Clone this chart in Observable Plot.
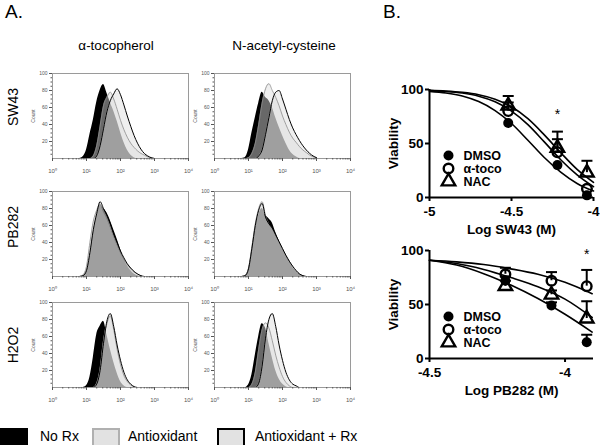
<!DOCTYPE html>
<html><head><meta charset="utf-8">
<script src="https://cdn.jsdelivr.net/npm/d3@7"></script>
<script src="https://cdn.jsdelivr.net/npm/@observablehq/plot@0.6"></script>
<style>
body{margin:0;background:#fff;}
#fig{position:relative;width:600px;height:445px;overflow:hidden;font-family:"Liberation Sans",Arial,sans-serif;background:#fff;color:#000;}
.abs{position:absolute;white-space:nowrap;}
.rot{position:absolute;white-space:nowrap;transform:translate(-50%,-50%) rotate(-90deg);font-size:14px;}
</style></head><body><div id="fig"></div>
<script>
// ---------- Panel A data (flow histograms, x = log10 fluorescence) ----------
const logGrid = [0.8,0.9,1.0,1.1,1.2,1.3,1.4,1.5,1.6,1.7,1.8,1.9,2.0,2.1,2.2,2.3,2.4,2.5,2.6,2.7,2.8,2.9,3.0];
const decadeTicks = [0,1,2,3,4];
const decadeLabels = ["10\u2070","10\u00b9","10\u00b2","10\u00b3","10\u2074"];
const countTicks = [20,40,60,80,100];
const columnTitles = ["\u03b1-tocopherol","N-acetyl-cysteine"];
const rowTitles = ["SW43","PB282","H2O2"];
const legendLabels = ["No Rx","Antioxidant","Antioxidant + Rx"];

const sw43Toco_noRx   = [0,2,10,28,45,66,80,87,77,66,56,44,31,19,10,4,1,0,0,0,0,0,0];
const sw43Toco_anti   = [0,0,0,0,3,15,38,62,72,78,70,58,45,34,25,18,13,9,6,4,2,1,0];
const sw43Toco_antiRx = [0,0,0,0,0,3,15,35,55,68,76,82,75,63,50,38,27,18,11,6,3,1,0];

const sw43Nac_noRx   = [0,1,10,30,48,65,78,72,68,60,48,37,27,18,10,5,2,0,0,0,0,0,0];
const sw43Nac_anti   = [0,0,1,6,18,40,65,82,88,80,72,62,50,40,31,24,19,14,10,7,4,2,1];
const sw43Nac_antiRx = [0,0,0,0,0,3,10,28,48,68,78,80,70,58,46,36,28,21,15,10,6,3,1];

const pb282Toco_noRx   = [0,1,6,25,52,72,84,80,75,66,55,44,32,21,13,7,3,1,0,0,0,0,0];
const pb282Toco_anti   = [0,2,12,40,65,78,85,76,68,58,47,37,28,20,14,9,5,3,1,0,0,0,0];
const pb282Toco_antiRx = [0,1,7,28,55,74,88,80,72,62,50,40,30,22,15,10,6,3,1,0,0,0,0];

const pb282Nac_noRx   = [0,1,8,30,55,72,80,72,68,63,52,42,33,25,18,11,6,3,1,0,0,0,0];
const pb282Nac_anti   = [0,1,10,35,62,80,88,72,62,56,48,40,32,25,18,12,7,3,1,0,0,0,0];
const pb282Nac_antiRx = [0,1,9,33,60,78,86,70,62,57,49,41,33,25,18,12,7,3,1,0,0,0,0];

const h2o2Toco_noRx   = [0,0,2,12,35,62,72,78,62,45,30,17,7,2,0,0,0,0,0,0,0,0,0];
const h2o2Toco_anti   = [0,0,0,0,0,5,22,55,75,84,68,45,27,14,7,3,1,0,0,0,0,0,0];
const h2o2Toco_antiRx = [0,0,0,0,0,4,20,52,78,87,72,50,32,18,9,4,1,0,0,0,0,0,0];

const h2o2Nac_noRx   = [0,0,3,15,38,60,75,70,52,35,20,10,4,1,0,0,0,0,0,0,0,0,0];
const h2o2Nac_anti   = [0,0,0,4,18,45,68,76,70,55,38,24,13,6,2,0,0,0,0,0,0,0,0];
const h2o2Nac_antiRx = [0,0,0,0,0,5,25,58,80,87,72,50,32,18,9,4,2,0,0,0,0,0,0];

// ---------- Panel B data (viability) ----------
const sw43Dose = [-4.52,-4.22,-4.04];
const sw43DMSO = [69,30,2],  sw43DMSOerr = [0,0,0];
const sw43Toco = [80,42,8],  sw43TocoErr = [8,12,0];
const sw43NAC  = [85,46,23], sw43NACerr  = [9,15,11];
const sw43Star = [{x:-4.22, y:77}];
const sw43FitX = [-5,-4.9,-4.8,-4.7,-4.6,-4.5,-4.4,-4.3,-4.2,-4.1,-4.0];
const sw43FitDMSO = [98.3,96.8,94,88.8,80.5,68.5,53,37,23.5,13,6];
const sw43FitToco = [99,98.2,96.7,93.8,88.6,80,67.5,51.5,35,21,10];
const sw43FitNAC  = [99.2,98.6,97.4,95.2,91,84,73,58,41.5,26,14];

const pb282Dose = [-4.22,-4.05,-3.92];
const pb282DMSO = [72,49,15], pb282DMSOerr = [4,3,7];
const pb282Toco = [78,72,67], pb282TocoErr = [6,8,15];
const pb282NAC  = [67,59,37], pb282NACerr  = [5,4,16];
const pb282Star = [{x:-3.92, y:96}];
const pb282FitX = [-4.5,-4.4,-4.3,-4.2,-4.1,-4.0,-3.9];
const pb282FitDMSO = [91,86.5,78.5,68,55.5,41,24.5];
const pb282FitToco = [91,89.5,87,83,78,70.5,60];
const pb282FitNAC  = [91,88,82.5,75,66.5,55,38];
const doseLegend = ["DMSO","\u03b1-toco","NAC"];

// ---------- helpers ----------
const fig = document.getElementById("fig");
const FONT = '"Liberation Sans", Arial, sans-serif';
function place(node, left, top){ node.style.position="absolute"; node.style.left=left+"px"; node.style.top=top+"px"; fig.appendChild(node); return node; }
function addText(txt, left, top, css){ const d=document.createElement("div"); d.className="abs"; d.textContent=txt; Object.assign(d.style, css||{}); return place(d,left,top); }

const minorX = decadeTicks.slice(0,-1).flatMap(n => d3.range(2,10).map(k => n + Math.log10(k)));
const minorY = d3.range(5,100,5).filter(v => v % 20 !== 0);

function hist(noRx, anti, antiRx, left, top){
  const rows = arr => logGrid.map((x,i)=>({x, y:arr[i]}));
  const curve = "monotone-x";
  const p = Plot.plot({
    width:172, height:113, marginLeft:30, marginRight:6, marginTop:6, marginBottom:22,
    x:{domain:[0,4]}, y:{domain:[0,100]},
    style:{fontFamily:FONT, fontSize:"5px", color:"#555", background:"transparent", overflow:"visible"},
    marks:[
      Plot.areaY(rows(noRx), {x:"x", y:"y", fill:"#000", curve}),
      Plot.areaY(rows(anti), {x:"x", y:"y", fill:"#dcdcdc", fillOpacity:0.47, curve}),
      Plot.areaY(rows(antiRx), {x:"x", y:"y", fill:"#dcdcdc", fillOpacity:0.47, curve}),
      Plot.lineY(rows(anti), {x:"x", y:"y", stroke:"#8a8a8a", strokeWidth:0.8, curve}),
      Plot.lineY(rows(antiRx), {x:"x", y:"y", stroke:"#000", strokeWidth:1, curve}),
      Plot.frame({stroke:"#9a9a9a"}),
      Plot.axisX({ticks:decadeTicks, tickFormat:d=>decadeLabels[decadeTicks.indexOf(d)], tickSize:3, tickPadding:7, fontSize:6, label:null}),
      Plot.axisX({ticks:minorX, tickSize:1.5, tickFormat:()=>"", label:null}),
      Plot.axisY({ticks:countTicks, tickSize:3, tickPadding:2, fontSize:5, label:"Count", labelAnchor:"center", labelArrow:"none", labelOffset:21}),
      Plot.axisY({ticks:minorY, tickSize:1.5, tickFormat:()=>"", label:null})
    ]
  });
  place(p, left-30, top-6);
}

const capSymbol = { draw(ctx, size){ const w = Math.sqrt(size/Math.PI); ctx.moveTo(-w,0); ctx.lineTo(w,0); } };

function doseResp(opts){
  const {left, top, domainX, ticksX, xlabel, dose, dmso, dmsoErr, toco, tocoErr, nac, nacErr, star, fitX, fitD, fitT, fitN} = opts;
  const pts = (vals, errs) => dose.map((x,i)=>({x, y:vals[i], e:errs[i]}));
  const fit = arr => fitX.map((x,i)=>({x, y:arr[i]}));
  const errs = [...pts(dmso,dmsoErr), ...pts(toco,tocoErr), ...pts(nac,nacErr)].filter(d=>d.e>0);
  const curve = "monotone-x";
  const LF = 12.5;
  const p = Plot.plot({
    width:220, height:169, marginLeft:49, marginRight:7, marginTop:19, marginBottom:42,
    x:{domain:domainX}, y:{domain:[0,100]},
    style:{fontFamily:FONT, fontSize:"13.5px", fontWeight:"bold", color:"#000", background:"transparent", overflow:"visible"},
    marks:[
      Plot.line(fit(fitD), {x:"x", y:"y", stroke:"#000", strokeWidth:1.6, curve}),
      Plot.line(fit(fitT), {x:"x", y:"y", stroke:"#000", strokeWidth:1.6, curve}),
      Plot.line(fit(fitN), {x:"x", y:"y", stroke:"#000", strokeWidth:1.6, curve}),
      Plot.ruleX(errs, {x:"x", y1:"y", y2:d=>d.y+d.e, stroke:"#000", strokeWidth:2}),
      Plot.dot(errs, {x:"x", y:d=>d.y+d.e, symbol:capSymbol, r:5.5, stroke:"#000", strokeWidth:2, fill:"none"}),
      Plot.dot(pts(dmso,dmsoErr), {x:"x", y:"y", r:5, fill:"#000", stroke:"none"}),
      Plot.dot(pts(toco,tocoErr), {x:"x", y:"y", r:4.8, fill:"none", stroke:"#000", strokeWidth:2.4}),
      Plot.dot(pts(nac,nacErr), {x:"x", y:"y", r:5, symbol:"triangle", fill:"none", stroke:"#000", strokeWidth:2.4}),
      Plot.text(star, {x:"x", y:"y", text:()=>"*", fontSize:14, fontWeight:"normal"}),
      Plot.ruleY([0], {stroke:"#000", strokeWidth:2}),
      Plot.ruleX([domainX[0]], {y1:0, y2:100, stroke:"#000", strokeWidth:2}),
      Plot.axisX({ticks:ticksX, tickFormat:d=>String(d), tickSize:4, tickPadding:5, strokeWidth:2, label:xlabel, labelAnchor:"center", labelArrow:"none", labelOffset:36}),
      Plot.axisY({ticks:[0,50,100], tickFormat:d=>String(d), tickSize:4, tickPadding:2, strokeWidth:2, label:"Viability", labelAnchor:"center", labelArrow:"none", labelOffset:41}),
      // legend
      Plot.dot([doseLegend[0]], {frameAnchor:"bottom-left", dx:19, dy:-42, r:5, fill:"#000"}),
      Plot.dot([doseLegend[1]], {frameAnchor:"bottom-left", dx:19, dy:-29, r:4.8, fill:"none", stroke:"#000", strokeWidth:2.4}),
      Plot.dot([doseLegend[2]], {frameAnchor:"bottom-left", dx:19, dy:-16, r:5, symbol:"triangle", fill:"none", stroke:"#000", strokeWidth:2.4}),
      Plot.text([doseLegend[0]], {frameAnchor:"bottom-left", text:d=>d, dx:34, dy:-42, textAnchor:"start", lineAnchor:"middle", fontSize:LF}),
      Plot.text([doseLegend[1]], {frameAnchor:"bottom-left", text:d=>d, dx:34, dy:-29, textAnchor:"start", lineAnchor:"middle", fontSize:LF}),
      Plot.text([doseLegend[2]], {frameAnchor:"bottom-left", text:d=>d, dx:34, dy:-16, textAnchor:"start", lineAnchor:"middle", fontSize:LF})
    ]
  });
  place(p, left, top);
}

// ---------- headers ----------
addText("A.", 5, 1, {fontSize:"19px"});
addText("B.", 383, 1, {fontSize:"19px"});
addText(columnTitles[0], 116, 38, {fontSize:"13.5px", transform:"translateX(-50%)"});
addText(columnTitles[1], 284, 38, {fontSize:"13.5px", transform:"translateX(-50%)"});
[[rowTitles[0],107],[rowTitles[1],227],[rowTitles[2],345]].forEach(([t,y])=>{
  const d=document.createElement("div"); d.className="rot"; d.textContent=t; place(d,13,y); d.style.transform="translate(-50%,-50%) rotate(-90deg)";
});

// ---------- histograms ----------
const colLeft = [52, 214];
const rowTop = [73, 191, 302];
hist(sw43Toco_noRx, sw43Toco_anti, sw43Toco_antiRx, colLeft[0], rowTop[0]);
hist(sw43Nac_noRx, sw43Nac_anti, sw43Nac_antiRx, colLeft[1], rowTop[0]);
hist(pb282Toco_noRx, pb282Toco_anti, pb282Toco_antiRx, colLeft[0], rowTop[1]);
hist(pb282Nac_noRx, pb282Nac_anti, pb282Nac_antiRx, colLeft[1], rowTop[1]);
hist(h2o2Toco_noRx, h2o2Toco_anti, h2o2Toco_antiRx, colLeft[0], rowTop[2]);
hist(h2o2Nac_noRx, h2o2Nac_anti, h2o2Nac_antiRx, colLeft[1], rowTop[2]);

// ---------- dose response ----------
doseResp({left:380, top:70, domainX:[-5,-4], ticksX:[-5,-4.5,-4], xlabel:"Log SW43 (M)",
  dose:sw43Dose, dmso:sw43DMSO, dmsoErr:sw43DMSOerr, toco:sw43Toco, tocoErr:sw43TocoErr, nac:sw43NAC, nacErr:sw43NACerr,
  star:sw43Star, fitX:sw43FitX, fitD:sw43FitDMSO, fitT:sw43FitToco, fitN:sw43FitNAC});
doseResp({left:380, top:231, domainX:[-4.5,-3.895], ticksX:[-4.5,-4], xlabel:"Log PB282 (M)",
  dose:pb282Dose, dmso:pb282DMSO, dmsoErr:pb282DMSOerr, toco:pb282Toco, tocoErr:pb282TocoErr, nac:pb282NAC, nacErr:pb282NACerr,
  star:pb282Star, fitX:pb282FitX, fitD:pb282FitDMSO, fitT:pb282FitToco, fitN:pb282FitNAC});

// ---------- bottom legend ----------
const sw = [
  {left:0, bg:"#000", border:"2px solid #000"},
  {left:92, bg:"#e2e2e2", border:"2px solid #b0b0b0"},
  {left:217, bg:"#e2e2e2", border:"2px solid #000"}
];
const txtLeft = [40, 128, 255];
sw.forEach((s,i)=>{
  const d=document.createElement("div");
  Object.assign(d.style,{width:"24px",height:"16px",background:s.bg,border:s.border});
  place(d, s.left, 428);
  addText(legendLabels[i], txtLeft[i], 427, {fontSize:"14px", lineHeight:"18px"});
});
</script></body></html>
